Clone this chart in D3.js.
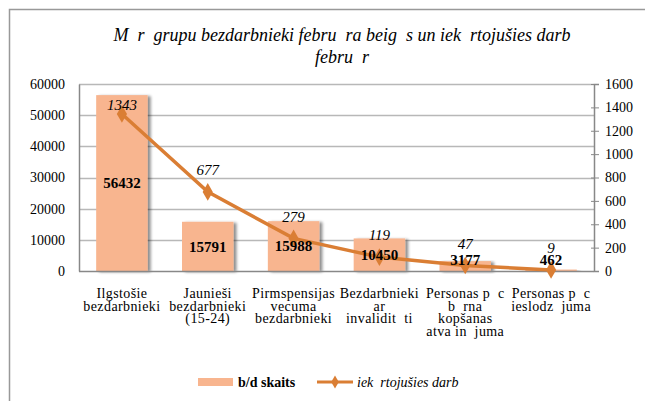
<!DOCTYPE html>
<html>
<head>
<meta charset="utf-8">
<title>bezdarbnieki</title>
<script src="https://d3js.org/d3.v7.min.js"></script>
<style>
  body { margin: 0; background: #fff; }
</style>
</head>
<body>
<script>
// data
var categories = [
  ["Ilgstošie", "bezdarbnieki"],
  ["Jaunieši", "bezdarbnieki", "(15-24)"],
  ["Pirmspensijas", "vecuma", "bezdarbnieki"],
  ["Bezdarbnieki", "ar", "invalidit  ti"],
  ["Personas p  c", "b  rna", "kopšanas", "atva in  juma"],
  ["Personas p  c", "ieslodz  juma"]
];
var unemployed = [56432, 15791, 15988, 10450, 3177, 462];
var employed = [1343, 677, 279, 119, 47, 9];
var leftTicks = [0, 10000, 20000, 30000, 40000, 50000, 60000];
var rightTicks = [0, 200, 400, 600, 800, 1000, 1200, 1400, 1600];
var titleLines = ["M  r  grupu bezdarbnieki febru  ra beig  s un iek  rtojušies darb", "febru  r"];
var legendNames = ["b/d skaits", "iek  rtojušies darb"];

var W = 645, H = 401;
var barColor = "#F8B58F", lineColor = "#DA7E34";
var plotL = 79, plotR = 594, plotT = 84, plotB = 271;
var serif = "'Liberation Serif'";

var svg = d3.select("body").append("svg").attr("width", W).attr("height", H);

// outer frame
svg.append("rect").attr("x", 9.5).attr("y", 9.5).attr("width", W).attr("height", H)
  .attr("fill", "none").attr("stroke", "#999").attr("stroke-width", 1.5);

var defs = svg.append("defs");
var f = defs.append("filter").attr("id", "shadow").attr("x", "-20%").attr("y", "-20%").attr("width", "150%").attr("height", "150%");
f.append("feGaussianBlur").attr("in", "SourceAlpha").attr("stdDeviation", 1.5);
f.append("feOffset").attr("dx", 3).attr("dy", 1).attr("result", "b");
f.append("feComponentTransfer").append("feFuncA").attr("type", "linear").attr("slope", 0.45);
var m = f.append("feMerge");
m.append("feMergeNode");
m.append("feMergeNode").attr("in", "SourceGraphic");

var x = d3.scaleBand().domain(d3.range(categories.length)).range([plotL, plotR]).paddingInner(0.4).paddingOuter(0.2);
var y = d3.scaleLinear().domain([0, 60000]).range([plotB, plotT]);
var y2 = d3.scaleLinear().domain([0, 1600]).range([plotB, plotT]);

// gridlines
svg.append("g").selectAll("line").data(leftTicks.slice(1)).enter().append("line")
  .attr("x1", plotL).attr("x2", plotR)
  .attr("y1", function (d) { return Math.round(y(d)) + 0.5; })
  .attr("y2", function (d) { return Math.round(y(d)) + 0.5; })
  .attr("stroke", "#b8b8b8").attr("stroke-width", 1.5);

// bars
svg.append("g").selectAll("rect").data(unemployed).enter().append("rect")
  .attr("x", function (d, i) { return x(i); })
  .attr("width", x.bandwidth())
  .attr("y", function (d) { return y(d); })
  .attr("height", function (d) { return plotB - y(d); })
  .attr("fill", barColor)
  .attr("filter", "url(#shadow)");

// axes
var axL = svg.append("g").attr("transform", "translate(" + plotL + ",0)")
  .call(d3.axisLeft(y).tickValues(leftTicks).tickFormat(d3.format("d")).tickSize(0).tickPadding(14));
var axR = svg.append("g").attr("transform", "translate(" + plotR + ",0)")
  .call(d3.axisRight(y2).tickValues(rightTicks).tickFormat(d3.format("d")).tickSize(5).tickPadding(6));
[axL, axR].forEach(function (a) {
  a.select(".domain").attr("stroke", "#888").attr("stroke-width", 1.5);
  a.selectAll(".tick line").attr("stroke", "#888");
  a.selectAll("text").style("font-family", serif).style("font-size", "14px").attr("fill", "#000");
});
axR.selectAll(".tick line").attr("x1", -3);
svg.append("line").attr("x1", plotL).attr("x2", plotR).attr("y1", plotB + 0.5).attr("y2", plotB + 0.5)
  .attr("stroke", "#888").attr("stroke-width", 1.5);

// line
var cx = function (i) { return x(i) + x.bandwidth() / 2; };
svg.append("path").datum(employed)
  .attr("d", d3.line().x(function (d, i) { return cx(i); }).y(function (d) { return y2(d); }))
  .attr("fill", "none").attr("stroke", lineColor).attr("stroke-width", 3.5);
svg.append("g").selectAll("path").data(employed).enter().append("path")
  .attr("d", d3.symbol().type(d3.symbolDiamond).size(90))
  .attr("transform", function (d, i) { return "translate(" + cx(i) + "," + y2(d) + ")"; })
  .attr("fill", lineColor);

// bar labels
svg.append("g").selectAll("text").data(unemployed).enter().append("text")
  .attr("x", function (d, i) { return cx(i); })
  .attr("y", function (d) { return Math.min((y(d) + plotB) / 2, plotB - 11); })
  .attr("dy", "0.35em").attr("text-anchor", "middle")
  .style("font-family", serif).style("font-size", "15px").style("font-weight", "bold")
  .text(function (d) { return d; });

// line labels
svg.append("g").selectAll("text").data(employed).enter().append("text")
  .attr("x", function (d, i) { return cx(i); })
  .attr("y", function (d) { return Math.max(y2(d) - 22, plotT + 21); })
  .attr("dy", "0.35em").attr("text-anchor", "middle")
  .style("font-family", serif).style("font-size", "15px").style("font-style", "italic")
  .text(function (d) { return d; });

// category labels
var cat = svg.append("g").selectAll("text").data(categories).enter().append("text")
  .attr("x", function (d, i) { return cx(i); })
  .attr("y", 298).attr("text-anchor", "middle")
  .style("font-family", serif).style("font-size", "14px").style("letter-spacing", "0.4px").style("white-space", "pre");
cat.selectAll("tspan").data(function (d) { return d; }).enter().append("tspan")
  .attr("x", function () { return d3.select(this.parentNode).attr("x"); })
  .attr("dy", function (d, i) { return i ? 12.5 : 0; })
  .text(function (d) { return d; });

// title
svg.append("g").selectAll("text").data(titleLines).enter().append("text")
  .attr("x", 342).attr("y", function (d, i) { return 41 + i * 22; })
  .attr("text-anchor", "middle")
  .style("font-family", serif).style("font-size", "18px").style("font-style", "italic").style("white-space", "pre")
  .text(function (d) { return d; });

// legend
var lg = svg.append("g");
lg.append("rect").attr("x", 198).attr("y", 378).attr("width", 35).attr("height", 8).attr("fill", barColor);
lg.append("text").attr("x", 238).attr("y", 382).attr("dy", "0.35em")
  .style("font-family", serif).style("font-size", "14px").style("font-weight", "bold").text(legendNames[0]);
lg.append("line").attr("x1", 317).attr("x2", 353).attr("y1", 382).attr("y2", 382).attr("stroke", lineColor).attr("stroke-width", 3);
lg.append("path").attr("d", d3.symbol().type(d3.symbolDiamond).size(50)).attr("transform", "translate(335,382)").attr("fill", lineColor);
lg.append("text").attr("x", 357).attr("y", 382).attr("dy", "0.35em")
  .style("font-family", serif).style("font-size", "14px").style("font-style", "italic").style("white-space", "pre").text(legendNames[1]);
</script>
</body>
</html>
